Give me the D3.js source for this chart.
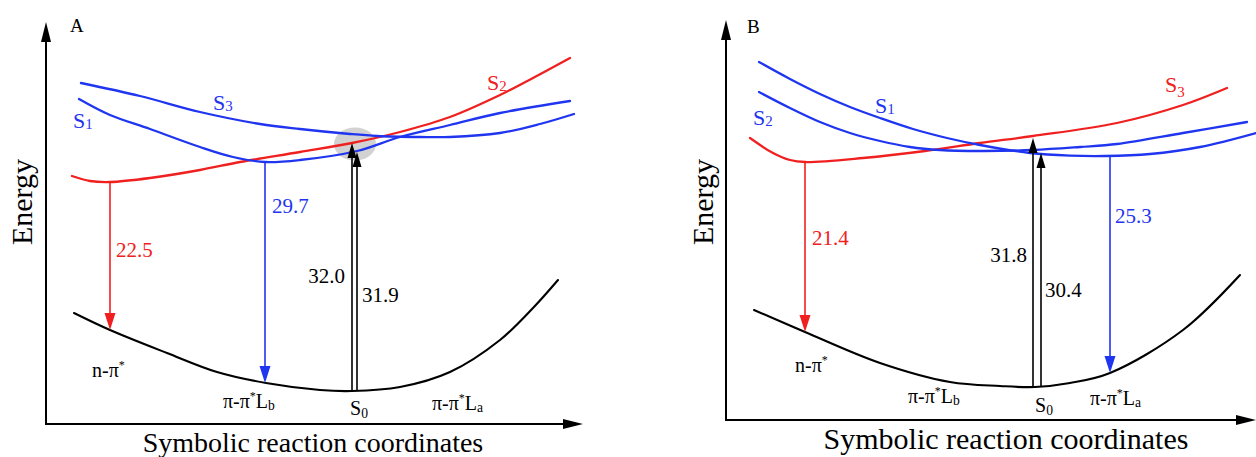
<!DOCTYPE html>
<html><head><meta charset="utf-8">
<script src="https://cdn.jsdelivr.net/npm/d3@7/dist/d3.min.js"></script>
<style>html,body{margin:0;padding:0;background:#fff;}svg{display:block;}svg text{font-family:'Liberation Serif','Times New Roman',serif;}</style>
</head><body>
<svg id="chart" width="1256" height="457"></svg>
<script>
// ---------- DATA (reaction coordinate, energy) ----------
// Panel A
const curveA_S1 = [[6.6,81.25],[12.8,77.25],[20.8,73.75],[30.8,69.25],[37.4,66.75],[43.8,65.5],[50.8,66],[62.2,68.25],[70.8,71.75],[80.8,74.75],[90.8,77.75],[104.8,80.75]];
const curveA_S2 = [[5.2,62],[8.8,60.75],[12.8,60.5],[20.8,61.5],[30.8,63.5],[38.8,65.5],[50.8,68],[61.2,70.25],[70.8,73],[80.8,76.75],[90.8,82.25],[97.4,86.5],[104.8,91.5]];
const curveA_S3 = [[7,85.25],[18.8,82],[30.8,78],[42.8,75],[50.8,73.75],[60.8,72.5],[66.2,72],[74.8,71.75],[80.8,71.75],[90.8,72.75],[98.8,75],[105.6,77.5]];
const curveA_S0 = [[5.6,27.75],[12.8,23.5],[24.2,17.75],[34.2,13],[44,10.25],[54.8,8.5],[61.2,8.25],[70.8,9.25],[80.8,13],[90.8,21],[97.4,29],[102.4,36]];
const emissionsA = [{x:12.8, from:60.5, to:23.5, value:"22.5", state:"S2"},{x:43.8, from:65.5, to:10.25, value:"29.7", state:"S1"}];
const absorptionsA = [{x:61.2, from:8.25, to:70.25, value:"32.0"},{x:62.2, from:8.25, to:68, value:"31.9"}];
const conicalA = [61.8, 70];
// Panel B
const curveB_S1 = [[6.6,89.5],[12.8,85.25],[18.8,81.5],[24.8,78.25],[30.8,75.5],[37.4,72.75],[44.2,70.5],[50.8,68.75],[60.8,66.75],[68.8,66.1],[75.8,66],[84.8,66.5],[94.8,68.25],[106,71.75]];
const curveB_S2 = [[6.6,82],[12.8,78],[18.8,74.5],[24.8,71.75],[30.8,69.75],[36.8,68.25],[42.8,67.5],[50.8,67.25],[61.4,67.5],[70.8,68.25],[78.2,69],[91.4,71.75],[104.2,74.5]];
const curveB_S3 = [[4.8,70.5],[9.4,66.75],[12.8,65],[15.8,64.5],[27.4,65.5],[39.8,67.25],[50.8,69.25],[61.4,71],[78.2,74.25],[91.4,78.75],[100.2,83]];
const curveB_S0 = [[5.6,27.5],[15.8,22],[30.8,14.25],[44.8,9.5],[54.8,8.5],[61.8,8.25],[68.8,9.25],[76.8,11.75],[91.4,22.5],[102.8,36.25]];
const emissionsB = [{x:15.8, from:64.5, to:22, value:"21.4", state:"S3"},{x:76.8, from:66, to:11.75, value:"25.3", state:"S1"}];
const absorptionsB = [{x:61.4, from:8.25, to:70.5, value:"31.8"},{x:63.0, from:8.25, to:66.75, value:"30.4"}];
const panelTitles = ["A","B"];
const axisTitles = ["Energy","Symbolic reaction coordinates"];

// ---------- STYLE ----------
const BLUE = "#1f35f0", RED = "#f02020", FONT = "'Liberation Serif','Times New Roman',serif";
const svg = d3.select("#chart");

const xA = d3.scaleLinear().domain([0,107.4]).range([46,583]);
const yA = d3.scaleLinear().domain([0,100.5]).range([424,22]);
const xB = d3.scaleLinear().domain([0,106]).range([726,1256]);
const yB = d3.scaleLinear().domain([0,100]).range([420,20]);

function rich(g, x, y, parts, size, color, anchor){
  const t = g.append("text").attr("x",x).attr("y",y).style("font-family",FONT)
    .attr("font-size",size).attr("fill",color).attr("text-anchor",anchor||"start");
  let shift = 0;
  parts.forEach(p=>{
    const target = p.sup ? -size*0.38 : p.sub ? (p.subShift!=null?p.subShift:size*0.08) : 0;
    t.append("tspan").text(p.t).attr("dy", target - shift)
      .attr("font-size", (p.sup||p.sub) ? size*(p.scale||0.68) : size);
    shift = target;
  });
  return t;
}

function panel(xs, ys, c){
  const g = svg.append("g");
  const x0 = xs.range()[0], x1 = xs.range()[1], yb = ys.range()[0], yt = ys.range()[1];
  g.append("line").attr("x1",x0).attr("y1",yb).attr("x2",x0).attr("y2",yt+18).attr("stroke","#000").attr("stroke-width",2);
  g.append("path").attr("d",`M${x0},${yt} L${x0-5},${yt+20} L${x0+5},${yt+20} Z`).attr("fill","#000");
  g.append("line").attr("x1",x0-1).attr("y1",yb).attr("x2",x1-18).attr("y2",yb).attr("stroke","#000").attr("stroke-width",2);
  g.append("path").attr("d",`M${x1},${yb} L${x1-20},${yb-5} L${x1-20},${yb+5} Z`).attr("fill","#000");

  if(c.conical){
    g.append("ellipse").attr("cx",xs(c.conical[0])).attr("cy",ys(c.conical[1])).attr("rx",21).attr("ry",16.5)
      .attr("fill","#cdcdcd").attr("opacity",0.9);
  }
  const line = d3.line().x(d=>xs(d[0])).y(d=>ys(d[1])).curve(d3.curveCatmullRom.alpha(0.5));
  c.curves.forEach(cv=>{
    g.append("path").attr("d",line(cv.data)).attr("fill","none").attr("stroke",cv.color)
      .attr("stroke-width",cv.w||2.3).attr("stroke-linecap","round");
  });
  c.emissions.forEach(e=>{
    const X = xs(e.x), Y0 = ys(e.from), Y1 = ys(e.to), col = e.color;
    g.append("line").attr("x1",X).attr("y1",Y0).attr("x2",X).attr("y2",Y1-14).attr("stroke",col).attr("stroke-width",1.6);
    g.append("path").attr("d",`M${X},${Y1} L${X-5.5},${Y1-17} L${X+5.5},${Y1-17} Z`).attr("fill",col);
  });
  c.absorptions.forEach(a=>{
    const X = xs(a.x), Y0 = ys(a.from), Y1 = ys(a.to);
    g.append("line").attr("x1",X).attr("y1",Y0).attr("x2",X).attr("y2",Y1+12).attr("stroke","#000").attr("stroke-width",1.6);
    g.append("path").attr("d",`M${X},${Y1} L${X-4.5},${Y1+15} L${X+4.5},${Y1+15} Z`).attr("fill","#000");
  });
  return g;
}

const gA = panel(xA, yA, {
  conical: conicalA,
  curves: [{data:curveA_S0,color:"#000",w:2.1},{data:curveA_S2,color:RED},{data:curveA_S3,color:BLUE},{data:curveA_S1,color:BLUE}],
  emissions: emissionsA.map((e,i)=>Object.assign({color: i===0?RED:BLUE}, e)),
  absorptions: absorptionsA
});
const gB = panel(xB, yB, {
  curves: [{data:curveB_S0,color:"#000",w:2.1},{data:curveB_S3,color:RED},{data:curveB_S1,color:BLUE},{data:curveB_S2,color:BLUE}],
  emissions: emissionsB.map((e,i)=>Object.assign({color: i===0?RED:BLUE}, e)),
  absorptions: absorptionsB
});

const LS = 21, SS = 20;
function plain(g, x, y, txt, size, anchor, transform){
  const t = g.append("text").attr("font-size",size).style("font-family",FONT).attr("text-anchor",anchor||"start").text(txt);
  if(transform) t.attr("transform",transform); else t.attr("x",x).attr("y",y);
  return t;
}
// Panel A
plain(gA, 70, 32, panelTitles[0], 19);
plain(gA, 0, 0, axisTitles[0], 30, "middle", "translate(32,202) rotate(-90)");
plain(gA, 313, 452, axisTitles[1], 28, "middle");
rich(gA, xA(5.4), yA(74), [{t:"S"},{t:"1",sub:true,subShift:1}], 22, BLUE);
rich(gA, xA(33.4), yA(78.5), [{t:"S"},{t:"3",sub:true,subShift:1}], 22, BLUE);
rich(gA, xA(88.2), yA(83.5), [{t:"S"},{t:"2",sub:true,subShift:1}], 22, RED);
rich(gA, xA(14), yA(41.75), [{t:emissionsA[0].value}], LS, RED);
rich(gA, xA(45.2), yA(52.75), [{t:emissionsA[1].value}], LS, BLUE);
rich(gA, xA(59.8), yA(35.25), [{t:absorptionsA[0].value}], LS, "#000", "end");
rich(gA, xA(63.2), yA(30.5), [{t:absorptionsA[1].value}], LS, "#000");
rich(gA, xA(9.2), yA(11.75), [{t:"n-π"},{t:"*",sup:true,scale:0.6}], SS, "#000");
rich(gA, xA(35.4), yA(4), [{t:"π-π"},{t:"*",sup:true,scale:0.6},{t:"L"},{t:"b",sub:true,subShift:2}], SS, "#000");
rich(gA, xA(60.8), yA(2.25), [{t:"S"},{t:"0",sub:true,subShift:3}], SS, "#000");
rich(gA, xA(77.2), yA(3.5), [{t:"π-π"},{t:"*",sup:true,scale:0.6},{t:"L"},{t:"a",sub:true,subShift:2}], SS, "#000");
// Panel B
plain(gB, 747, 33, panelTitles[1], 19);
plain(gB, 0, 0, axisTitles[0], 30, "middle", "translate(713,202) rotate(-90)");
plain(gB, 1006, 449, axisTitles[1], 30, "middle");
rich(gB, xB(5.4), yB(73.75), [{t:"S"},{t:"2",sub:true,subShift:1}], 22, BLUE);
rich(gB, xB(29.8), yB(76.75), [{t:"S"},{t:"1",sub:true,subShift:1}], 22, BLUE);
rich(gB, xB(87.8), yB(82), [{t:"S"},{t:"3",sub:true,subShift:5}], 22, RED);
rich(gB, xB(17.2), yB(43.75), [{t:emissionsB[0].value}], LS, RED);
rich(gB, xB(77.8), yB(49.25), [{t:emissionsB[1].value}], LS, BLUE);
rich(gB, xB(60.2), yB(39.5), [{t:absorptionsB[0].value}], LS, "#000", "end");
rich(gB, xB(63.8), yB(30.75), [{t:absorptionsB[1].value}], LS, "#000");
rich(gB, xB(13.8), yB(12), [{t:"n-π"},{t:"*",sup:true,scale:0.6}], SS, "#000");
rich(gB, xB(36.4), yB(4.25), [{t:"π-π"},{t:"*",sup:true,scale:0.6},{t:"L"},{t:"b",sub:true,subShift:2}], SS, "#000");
rich(gB, xB(61.8), yB(2), [{t:"S"},{t:"0",sub:true,subShift:3}], SS, "#000");
rich(gB, xB(72.8), yB(3.75), [{t:"π-π"},{t:"*",sup:true,scale:0.6},{t:"L"},{t:"a",sub:true,subShift:2}], SS, "#000");
</script>
</body></html>
